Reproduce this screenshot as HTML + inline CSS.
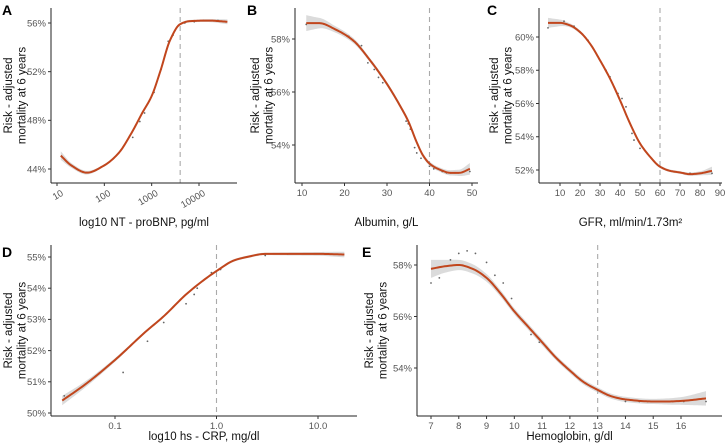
<!DOCTYPE html>
<html><head><meta charset="utf-8"><style>
body{margin:0;background:#fff;}
svg{display:block;font-family:"Liberation Sans",sans-serif;}
.tk{font-size:9.5px;fill:#555;}
.tt{font-size:11.5px;fill:#111;}
.pl{font-size:14px;font-weight:bold;fill:#000;}
</style></head><body>
<svg id="chart" width="727" height="445" viewBox="0 0 727 445" xmlns="http://www.w3.org/2000/svg"></svg>
<script>
// Panel A: NT-proBNP (log10 values)
const aCurveX=[1.08,1.3,1.63,2.0,2.3,2.58,2.8,3.0,3.18,3.39,3.6,3.8,4.2,4.6];
const aCurveY=[45.1,44.3,43.7,44.3,45.3,47.0,48.6,50.0,52.0,54.6,55.9,56.15,56.2,56.1];
const aCi=[0.35,0.2,0.15,0.1,0.1,0.1,0.1,0.1,0.1,0.1,0.1,0.1,0.12,0.2];
const aPtX=[2.6,2.75,2.85,2.95,3.05,3.2,3.35,3.45,3.7,3.9,4.1,4.4,4.55];
const aPtY=[46.6,47.9,48.6,49.6,50.3,52.2,54.5,55.0,56.0,56.1,56.2,56.2,56.1];
const aTicks=[1,2,3,4];const aTickLabels=["10","100","1000","10000"];
const aYTicks=[44,48,52,56];
const aCut=Math.log10(4000);
// Panel B: Albumin
const bCurveX=[11,14,18,22,26,30,33,35,37,38.5,40,42,45,47,49.5];
const bCurveY=[58.6,58.6,58.35,57.95,57.2,56.3,55.5,54.9,54.1,53.6,53.3,53.1,52.95,52.95,53.1];
const bCi=[0.3,0.2,0.12,0.1,0.08,0.08,0.08,0.08,0.08,0.08,0.08,0.08,0.1,0.12,0.22];
const bPtX=[11,21,24,25.5,27,28,29,34.5,35,35.5,36.5,37,38,40,41,43,44,45,46,49.5];
const bPtY=[58.55,58.1,57.75,57.1,56.85,56.55,56.35,54.9,54.8,54.6,53.9,53.7,53.5,53.2,53.1,53.0,52.95,52.95,52.95,53.0];
const bTicks=[10,20,30,40,50];const bYTicks=[54,56,58];const bCut=40;
// Panel C: GFR
const cCurveX=[4,10,15,20,25,30,35,40,45,50,55,60,65,70,75,80,86];
const cCurveY=[60.85,60.85,60.7,60.3,59.6,58.6,57.5,56.2,54.8,53.6,52.8,52.2,51.95,51.85,51.75,51.8,51.95];
const cCi=[0.3,0.2,0.12,0.1,0.08,0.08,0.08,0.08,0.08,0.08,0.08,0.08,0.08,0.08,0.1,0.12,0.25];
const cPtX=[4,12,17,20,24,33,35,37,39,41,43,46,47,50,65,67,70,72,75,80,86];
const cPtY=[60.55,60.95,60.65,60.3,59.8,58.0,57.6,57.0,56.6,56.3,55.8,54.2,53.8,53.3,51.95,51.9,51.85,51.8,51.8,51.8,51.8];
const cTicks=[10,20,30,40,50,60,70,80,90];const cYTicks=[52,54,56,58,60];const cCut=60;
// Panel D: hs-CRP (log10 values)
const dCurveX=[-1.52,-1.3,-1,-0.7,-0.52,-0.3,-0.15,0,0.18,0.3,0.48,0.7,1,1.26];
const dCurveY=[50.4,50.9,51.7,52.6,53.1,53.8,54.2,54.55,54.9,55.0,55.1,55.1,55.1,55.08];
const dCi=[0.15,0.1,0.06,0.04,0.04,0.04,0.04,0.04,0.04,0.04,0.04,0.05,0.06,0.09];
const dPtX=[-1.5,-0.92,-0.68,-0.52,-0.3,-0.22,-0.19,-0.05,0.04,0.3,0.48,0.7];
const dPtY=[50.55,51.3,52.3,52.9,53.5,53.8,54.0,54.5,54.6,55.0,55.05,55.1];
const dTicks=[-1,0,1];const dTickLabels=["0.1","1.0","10.0"];const dYTicks=[50,51,52,53,54,55];const dCut=0;
// Panel E: Hemoglobin
const eCurveX=[7,7.5,8,8.5,9,9.5,10,10.5,11,11.5,12,12.5,13,13.5,14,15,15.5,16,16.9];
const eCurveY=[57.85,57.95,58.0,57.85,57.5,56.9,56.2,55.6,55.0,54.4,53.9,53.45,53.15,52.9,52.78,52.7,52.7,52.72,52.82];
const eCi=[0.35,0.25,0.2,0.18,0.15,0.13,0.12,0.12,0.12,0.1,0.1,0.1,0.1,0.1,0.1,0.1,0.12,0.15,0.28];
const ePtX=[7,7.3,7.7,8,8.3,8.6,9,9.3,9.6,9.9,10.6,10.9,12.1,14,14.5,14.8,15.1,15.4,15.7,16.1,16.9];
const ePtY=[57.3,57.5,58.2,58.45,58.55,58.45,58.1,57.6,57.3,56.7,55.3,55.0,53.8,52.7,52.7,52.7,52.7,52.7,52.7,52.7,52.7];
const eTicks=[7,8,9,10,11,12,13,14,15,16];const eYTicks=[54,56,58];const eCut=13;

const NS="http://www.w3.org/2000/svg";
const svg=document.getElementById('chart');
function mk(tag,attrs,parent){const e=document.createElementNS(NS,tag);for(const k in attrs)e.setAttribute(k,attrs[k]);(parent||svg).appendChild(e);return e;}
function lin(d0,d1,r0,r1){return v=>r0+(v-d0)*(r1-r0)/(d1-d0);}
// monotone cubic (Fritsch-Carlson) interpolation, sampled densely
function interp(xs,ys){const n=xs.length,d=[],m=new Array(n);
 for(let i=0;i<n-1;i++)d.push((ys[i+1]-ys[i])/(xs[i+1]-xs[i]));
 m[0]=d[0];m[n-1]=d[n-2];
 for(let i=1;i<n-1;i++){if(d[i-1]*d[i]<=0)m[i]=0;else{const w1=2*(xs[i+1]-xs[i])+(xs[i]-xs[i-1]),w2=(xs[i+1]-xs[i])+2*(xs[i]-xs[i-1]);m[i]=(w1+w2)/(w1/d[i-1]+w2/d[i]);}}
 return x=>{let i=0;while(i<n-2&&x>xs[i+1])i++;const h=xs[i+1]-xs[i],t=(x-xs[i])/h;
  const h00=2*t*t*t-3*t*t+1,h10=t*t*t-2*t*t+t,h01=-2*t*t*t+3*t*t,h11=t*t*t-t*t;
  return h00*ys[i]+h10*h*m[i]+h01*ys[i+1]+h11*h*m[i+1];};}
function samples(xs,ys,sx,sy,off){const f=interp(xs,ys),g=off?interp(xs,off):null,pts=[],N=160,x0=xs[0],x1=xs[xs.length-1];
 for(let k=0;k<=N;k++){const x=x0+(x1-x0)*k/N;pts.push([sx(x),sy(f(x)+(g?g(x):0))]);}return pts;}
function poly(pts){return 'M'+pts.map(p=>p[0].toFixed(2)+','+p[1].toFixed(2)).join('L');}
function panel(o){
 const g=mk('g',{});
 
 
 const sx=o.sx,sy=o.sy;
 const up=samples(o.cx,o.cy,sx,sy,o.ci);
 const lo=samples(o.cx,o.cy,sx,sy,o.ci.map(v=>-v)).reverse();
 const band=mk('path',{d:poly(up)+'L'+poly(lo).slice(1)+'Z',fill:'#cfcfcf','fill-opacity':0.75},g);
 
 
 o.px.forEach((x,i)=>{const c=mk('circle',{cx:sx(x),cy:sy(o.py[i]),r:0.9,fill:'#666'},g);
  
  });
 const cl=mk('line',{x1:sx(o.cut),x2:sx(o.cut),y1:o.top,y2:o.bot,stroke:'#aaa','stroke-width':1.1,'stroke-dasharray':'5,4'},g);
 
 
 const cv=mk('path',{d:poly(samples(o.cx,o.cy,sx,sy)),fill:'none',stroke:'#c1461d','stroke-width':2,'stroke-linejoin':'round'},g);
 
 
 const ya=mk('line',{x1:o.left,x2:o.left,y1:o.top,y2:o.bot,stroke:'#222','stroke-width':1},g);
 
 
 const xa=mk('line',{x1:o.left,x2:o.right,y1:o.bot,y2:o.bot,stroke:'#222','stroke-width':1},g);
 
 
 o.yt.forEach(v=>{const y=sy(v);mk('line',{x1:o.left-3,x2:o.left,y1:y,y2:y,stroke:'#333'},g);
  const t=mk('text',{x:o.left-5,y:y+3.3,'text-anchor':'end',class:'tk'},g);t.textContent=v+'%';
  
  });
 o.xt.forEach((v,i)=>{const x=sx(v);mk('line',{x1:x,x2:x,y1:o.bot,y2:o.bot+3,stroke:'#333'},g);
  const lab=o.xl?o.xl[i]:String(v);let t;
  if(o.rot)t=mk('text',{transform:'translate('+(x+7)+','+(o.bot+12)+') rotate(-30)','text-anchor':'end',class:'tk'},g);
  else t=mk('text',{x:x,y:o.bot+13,'text-anchor':'middle',class:'tk'},g);
  t.textContent=lab;
  
  });
 const xt=mk('text',{x:(o.left+o.right)/2,y:o.xty,'text-anchor':'middle',class:'tt'},g);xt.textContent=o.xtitle;
 
 
 const cy=(o.top+o.bot)/2;
 const yt=mk('text',{transform:'translate('+o.ytx+','+cy+') rotate(-90)','text-anchor':'middle',class:'tt'},g);
 
 
 const s1=mk('tspan',{x:0,dy:0},yt);s1.textContent='Risk - adjusted';
 const s2=mk('tspan',{x:0,dy:13.5},yt);s2.textContent='mortality at 6 years';
 const pl=mk('text',{x:o.plx,y:o.ply,class:'pl'},g);pl.textContent=o.id;
 
 
}
panel({id:'A',left:51,right:237,top:8,bot:183,sx:lin(1,4,57,199),sy:lin(44,56,169,23),cx:aCurveX,cy:aCurveY,ci:aCi,px:aPtX,py:aPtY,cut:aCut,xt:aTicks,xl:aTickLabels,yt:aYTicks,rot:true,xtitle:'log10 NT - proBNP, pg/ml',xty:226,ytx:12,plx:2,ply:15});
panel({id:'B',left:295,right:478,top:8,bot:183,sx:lin(10,50,302,472),sy:lin(54,58,145,39),cx:bCurveX,cy:bCurveY,ci:bCi,px:bPtX,py:bPtY,cut:bCut,xt:bTicks,yt:bYTicks,xtitle:'Albumin, g/L',xty:226,ytx:259,plx:247,ply:15});
panel({id:'C',left:539,right:722,top:8,bot:183,sx:lin(10,90,560,720),sy:lin(52,60,170,37),cx:cCurveX,cy:cCurveY,ci:cCi,px:cPtX,py:cPtY,cut:cCut,xt:cTicks,yt:cYTicks,xtitle:'GFR, ml/min/1.73m²',xty:226,ytx:498,plx:487,ply:15});
panel({id:'D',left:51,right:357,top:245,bot:416,sx:lin(-1,1,115,318),sy:lin(50,55,413,257),cx:dCurveX,cy:dCurveY,ci:dCi,px:dPtX,py:dPtY,cut:dCut,xt:dTicks,xl:dTickLabels,yt:dYTicks,xtitle:'log10 hs - CRP, mg/dl',xty:440,ytx:12,plx:2,ply:257});
panel({id:'E',left:417,right:722,top:245,bot:416,sx:lin(7,16,431,681),sy:lin(54,58,368,265),cx:eCurveX,cy:eCurveY,ci:eCi,px:ePtX,py:ePtY,cut:eCut,xt:eTicks,yt:eYTicks,xtitle:'Hemoglobin, g/dl',xty:440,ytx:373,plx:362,ply:257});
</script>
</body></html>
